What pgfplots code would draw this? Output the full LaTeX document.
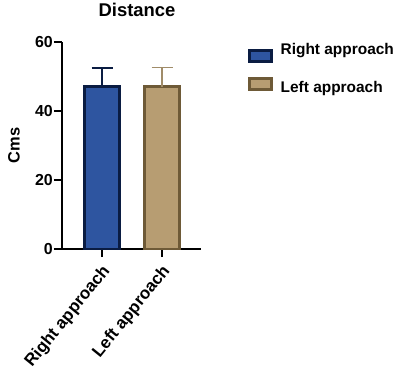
\documentclass[border=0pt]{standalone}
\usepackage{fontspec}
\setmainfont{Liberation Sans}
\usepackage{pgfplots}
\pgfplotsset{compat=1.18}
\definecolor{rblue}{RGB}{46,85,160}
\definecolor{rblueedge}{RGB}{10,28,66}
\definecolor{ltan}{RGB}{183,157,114}
\definecolor{ltanedge}{RGB}{110,90,55}
\definecolor{ltanerr}{RGB}{160,140,105}
\begin{document}
\begin{tikzpicture}
\begin{axis}[
  scale only axis, width=139bp, height=207bp,
  xmin=0.333, xmax=2.65, ymin=0, ymax=60,
  axis x line*=bottom, axis y line*=left,
  axis line style={-, line width=2bp, black},
  ytick={0,20,40,60}, xtick={1,2},
  xticklabels={Right approach, Left approach},
  tick style={line width=2bp, black}, tick align=outside,
  major tick length=8bp,
  /pgf/number format/assume math mode=true,
  yticklabel style={font=\fontsize{16}{19}\selectfont\bfseries, inner sep=1bp},
  xticklabel style={font=\fontsize{17}{20}\selectfont\bfseries, rotate=51, anchor=east, inner sep=1bp, xshift=-4.5bp, yshift=-11bp},
  ylabel=Cms,
  ylabel style={font=\fontsize{16.5}{19}\selectfont\bfseries, at={(axis description cs:-0.302,0.5)}, anchor=south, inner sep=0pt},
  title=Distance,
  title style={font=\fontsize{18.5}{22}\selectfont\bfseries, at={(axis description cs:0.54,1)}, anchor=base, yshift=20bp},
  legend style={at={(axis description cs:1.338,0.995)}, anchor=north west, draw=none, fill=none, inner sep=0pt,
    font=\fontsize{15.5}{18}\selectfont\bfseries, row sep=14.5bp, column sep=0bp, nodes={inner sep=0pt}},
  legend cell align=left,
]
\addplot[ybar, bar width=35bp, bar shift=0pt, fill=rblue, draw=rblueedge, line width=3bp,
  legend image code/.code={\pgfsetbaseline{0pt}\draw[fill=rblue, draw=rblueedge, line width=3bp] (1.5bp,-11.5bp) rectangle (23.5bp,-0.5bp); \path (31bp,0);},
  error bars/.cd, y dir=plus, y explicit, error mark=|,
  error bar style={line width=1.2bp, color=rblueedge},
  error mark options={line width=1.2bp, mark size=10.5bp, color=rblueedge}]
  coordinates {(1,47.1) +- (0,5.35)};
\addlegendentry{Right approach}
\addplot[ybar, bar width=35bp, bar shift=0pt, fill=ltan, draw=ltanedge, line width=3bp,
  legend image code/.code={\pgfsetbaseline{0pt}\draw[fill=ltan, draw=ltanedge, line width=3bp] (1.5bp,-1.5bp) rectangle (23.5bp,9.5bp); \path (31bp,0);},
  error bars/.cd, y dir=plus, y explicit, error mark=|,
  error bar style={line width=1.2bp, color=ltanerr},
  error mark options={line width=1.2bp, mark size=10.5bp, color=ltanerr}]
  coordinates {(2,47.1) +- (0,5.45)};
\addlegendentry{Left approach}
\end{axis}
\pgfresetboundingbox
\path[use as bounding box] ([shift={(-62bp,-127bp)}]current axis.south west) rectangle ++(401bp,376bp);
\end{tikzpicture}
\end{document}
